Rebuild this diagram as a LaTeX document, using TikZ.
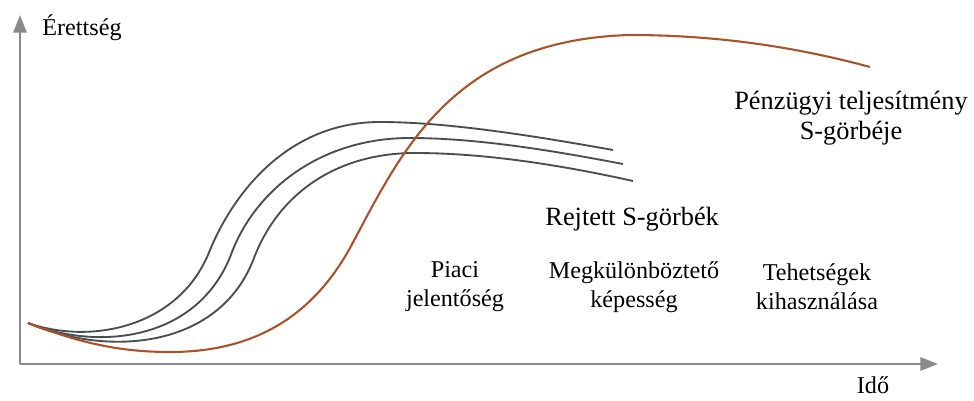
\documentclass[tikz,border=0pt]{standalone}
\usepackage{fontspec}
\setmainfont{Liberation Serif}
\usepackage{tikz}
\usetikzlibrary{arrows.meta,positioning}
\definecolor{Axis}{HTML}{8A8A8A}
\definecolor{Hidden}{HTML}{4A4E50}
\definecolor{Money}{HTML}{A9522B}
\tikzset{
  >={Triangle[length=8pt,width=6pt]},
  axis/.style={->,line width=1pt,draw=Axis},
  hidden/.style={line width=.85pt,draw=Hidden},
  money/.style={line width=.95pt,draw=Money},
  lab/.style={font=\fontsize{11}{13.2}\selectfont,align=center,inner sep=0pt},
  biglab/.style={font=\fontsize{12}{13.7}\selectfont,align=center,inner sep=0pt}
}

\begin{document}
\begin{tikzpicture}[x=.016cm,y=-.016cm]
        \useasboundingbox (0,0) rectangle (974,401);
        \coordinate (o) at (20,364);
        \coordinate (ytip) at (20,15);
        \coordinate (xtip) at (938,364);
        \coordinate (s) at (28,323);

        \draw[axis] (o)--(ytip);
        \draw[axis] (o)--(xtip);
        \node[lab,anchor=base west] (mat) at (42,35) {Érettség};
        \node[lab,anchor=base] (time) at (873,393) {Idő};

        % rejtett gorbek
        \draw[hidden] (s) .. controls (90,345) and (180,328) .. (210,250)
          .. controls (235,190) and (290,122) .. (380,122)
          .. controls (450,122) and (540,137) .. (613,150);
        \draw[hidden] (s) .. controls (100,352) and (200,340) .. (232,252)
          .. controls (256,190) and (320,138) .. (410,138)
          .. controls (480,138) and (560,152) .. (623,164);
        \draw[hidden] (s) .. controls (110,358) and (220,348) .. (254,258)
          .. controls (278,195) and (335,153) .. (415,153)
          .. controls (490,153) and (570,167) .. (633,181);

        % penzugyi gorbe
        \draw[money] (s) .. controls (80,343) and (120,352) .. (170,352)
          .. controls (250,352) and (310,320) .. (350,248)
          .. controls (400,155) and (450,40) .. (630,35)
          .. controls (720,35) and (800,48) .. (870,67);

        \node[biglab] (fin) at (851,118) {Pénzügyi teljesítmény\\S-görbéje};
        \node[biglab,anchor=base west] (hid) at (545,225) {Rejtett S-görbék};
        \node[lab] (mkt) at (455,287) {Piaci\\jelentőség};
        \node[lab] (dif) at (634,287) {Megkülönböztető\\képesség};
        \node[lab] (tal) at (817,287) {Tehetségek\\kihasználása};
      \end{tikzpicture}
\end{document}
